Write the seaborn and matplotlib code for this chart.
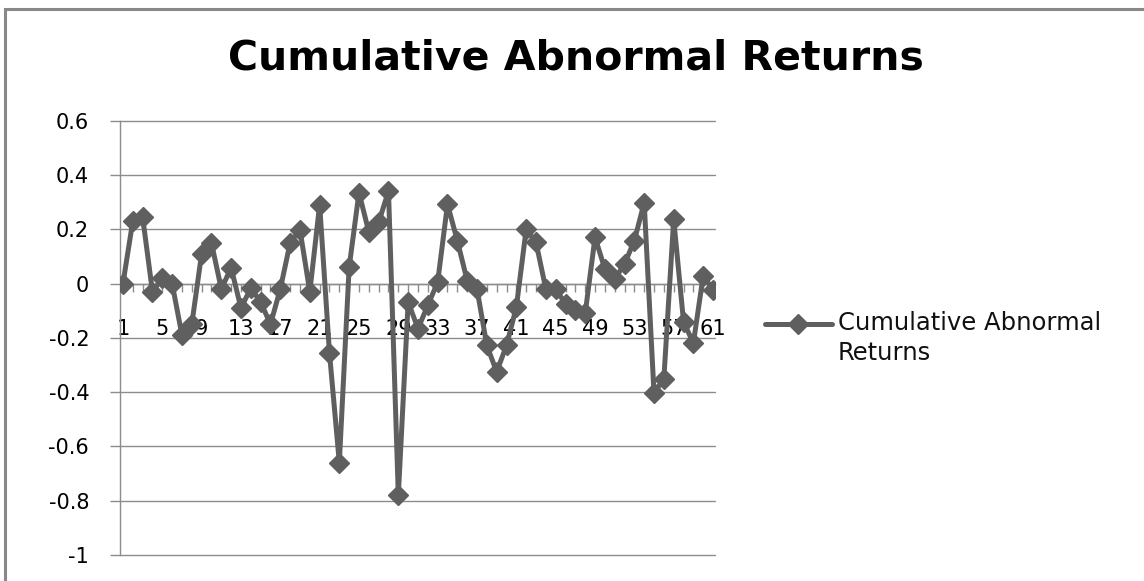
import numpy as np
import pandas as pd
import matplotlib
matplotlib.use("Agg")
import matplotlib.pyplot as plt
from matplotlib.legend_handler import HandlerLine2D
from matplotlib.patches import Rectangle
import seaborn as sns

# Event-window periods and the cumulative abnormal return at each one
periods = list(range(1, 62))
car = [
    0.00, 0.23, 0.245, -0.03, 0.02, 0.00, -0.19, -0.15, 0.11, 0.15,
    -0.02, 0.058, -0.09, -0.017, -0.068, -0.15, -0.02, 0.15, 0.198, -0.03,
    0.29, -0.256, -0.66, 0.06, 0.335, 0.19, 0.225, 0.341, -0.78, -0.068,
    -0.166, -0.08, 0.005, 0.292, 0.158, 0.011, -0.02, -0.228, -0.325, -0.228,
    -0.087, 0.20, 0.152, -0.02, -0.02, -0.075, -0.099, -0.11, 0.17, 0.054,
    0.017, 0.072, 0.158, 0.298, -0.405, -0.35, 0.237, -0.14, -0.22, 0.029,
    -0.023,
]
y_ticks = [-1.0, -0.8, -0.6, -0.4, -0.2, 0.0, 0.2, 0.4, 0.6]
y_tick_labels = ["-1", "-0.8", "-0.6", "-0.4", "-0.2", "0", "0.2", "0.4", "0.6"]
x_label_periods = list(range(1, 62, 4))
x_tick_labels = [str(p) for p in x_label_periods]
chart_title = "Cumulative Abnormal Returns"
legend_label = "Cumulative Abnormal\nReturns"

sns.set_style("white")
plt.rcParams["font.family"] = ["DejaVu Sans"]

LINE = "#5f5f5f"
GRID = "#8c8c8c"
W, H = 1144, 581


class FirstLineHandler(HandlerLine2D):
    """Line handler that lifts the sample up to the first row of a two-line label."""

    def __init__(self, shift, **kwargs):
        super().__init__(**kwargs)
        self.shift = shift

    def create_artists(self, legend, orig_handle, xdescent, ydescent,
                       width, height, fontsize, trans):
        artists = super().create_artists(legend, orig_handle, xdescent, ydescent,
                                         width, height, fontsize, trans)
        for a in artists:
            a.set_ydata(np.asarray(a.get_ydata(), float) + self.shift * fontsize)
        return artists


fig = plt.figure(figsize=(W / 100, H / 100), dpi=100)
ax = fig.add_axes([120 / W, 26 / H, 595 / W, 434.3 / H])

df = pd.DataFrame({"Period": periods, "CAR": car})
sns.lineplot(data=df, x="Period", y="CAR", ax=ax, color=LINE, linewidth=3.6,
             marker="D", markersize=10, markeredgecolor=LINE,
             markeredgewidth=1, legend=False)
series_line = ax.lines[0]
series_line.set_zorder(3)

ax.set_xlim(0.7, 61.2)
ax.set_ylim(-1, 0.6)
ax.set_yticks(y_ticks)
ax.set_yticklabels(y_tick_labels)
ax.set_xticks(x_label_periods)
ax.set_xticklabels(x_tick_labels)
ax.set_xticks(periods, minor=True)
ax.set_xlabel("")
ax.set_ylabel("")

ax.yaxis.grid(True, color=GRID, linewidth=1)
ax.xaxis.grid(False)
ax.set_axisbelow(True)
for gl in ax.get_ygridlines():
    gl.set_clip_on(False)

for side in ("top", "right"):
    ax.spines[side].set_visible(False)
ax.spines["left"].set_color(GRID)
ax.spines["left"].set_linewidth(1)
ax.spines["bottom"].set_position(("data", 0))
ax.spines["bottom"].set_color(GRID)
ax.spines["bottom"].set_linewidth(1)

ax.tick_params(axis="y", which="major", left=True, direction="out", length=7.2,
               width=1, color=GRID, pad=15, labelsize=15, labelcolor="black")
ax.tick_params(axis="x", which="both", bottom=True, direction="out", length=5.8,
               width=1, color=GRID)
ax.tick_params(axis="x", which="major", pad=20, labelsize=15, labelcolor="black")

fig.text(576 / W, 1 - 70 / H, chart_title, ha="center", va="baseline",
         fontsize=29.5, fontweight="bold", color="black")

leg = ax.legend([series_line], [legend_label],
                handler_map={series_line: FirstLineHandler(0.62)},
                loc="center left", bbox_to_anchor=(765 / W, 1 - 338 / H),
                bbox_transform=fig.transFigure, frameon=False, fontsize=17.5,
                handlelength=2.75, handletextpad=0.25, borderpad=0,
                borderaxespad=0, labelcolor="#111111")
for t in leg.get_texts():
    t.set_linespacing(1.3)

# Chart-area frame (left and top edges fall inside the canvas)
fig.add_artist(Rectangle((5 / W, -0.5), 2.0, 0.5 + 1 - 9 / H,
                         transform=fig.transFigure, fill=False,
                         edgecolor="#888888", linewidth=2.2))

fig.savefig("out.png", dpi=100, facecolor="white")
